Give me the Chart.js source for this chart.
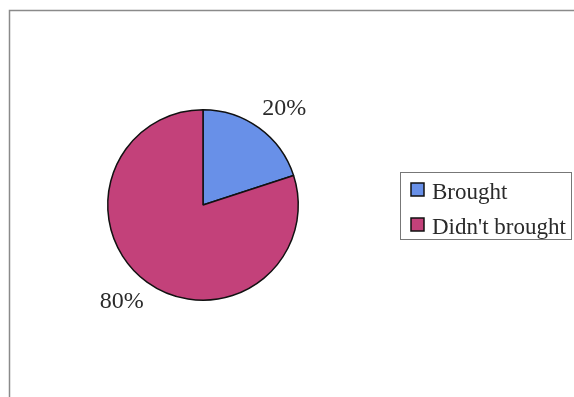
<!DOCTYPE html>
<html lang="en">
  <head>
    <meta charset="utf-8" />
    <title>Brought pie</title>
    <style>
      * {
        margin: 0;
        padding: 0;
      }
      body {
        background: #fff;
      }
      .chartBox {
        width: 574px;
        height: 397px;
      }
    </style>
  </head>
  <body>
    <div class="chartBox">
      <canvas id="myChart" width="574" height="397"></canvas>
    </div>

    <script src="https://cdn.jsdelivr.net/npm/chart.js@4.1.1/dist/chart.umd.min.js"></script>

    <script>
      const labels = ["Brought", "Didn't brought"];
      const values = [20, 80];
      const colors = ["#6890e8", "#c3417a"];

      const PCT_FONT = "24px 'Liberation Serif', 'Times New Roman', serif";
      const LEG_FONT = "23px 'Liberation Serif', 'Times New Roman', serif";

      // frame lines, percent labels and the boxed legend
      const extras = {
        id: "extras",
        beforeDraw(chart) {
          const { ctx } = chart;
          ctx.save();
          ctx.strokeStyle = "#8a8a8a";
          ctx.lineWidth = 1.5;
          ctx.beginPath();
          ctx.moveTo(9.5, 397);
          ctx.lineTo(9.5, 10.5);
          ctx.lineTo(574, 10.5);
          ctx.stroke();
          ctx.restore();
        },
        afterDraw(chart) {
          const { ctx } = chart;
          const meta = chart.getDatasetMeta(0);
          const total = values.reduce((a, b) => a + b, 0);
          ctx.save();
          ctx.font = PCT_FONT;
          ctx.fillStyle = "#2a2a2a";
          ctx.textAlign = "center";
          ctx.textBaseline = "middle";
          meta.data.forEach((arc, i) => {
            const { x, y, startAngle, endAngle, outerRadius } = arc.getProps(
              ["x", "y", "startAngle", "endAngle", "outerRadius"],
              true
            );
            const mid = (startAngle + endAngle) / 2 + 0.07;
            const r = outerRadius + 31;
            const pct = Math.round((values[i] / total) * 100) + "%";
            ctx.fillText(pct, x + Math.cos(mid) * r, y + Math.sin(mid) * r);
          });

          // legend box
          ctx.font = LEG_FONT;
          ctx.strokeStyle = "#777";
          ctx.lineWidth = 1;
          ctx.strokeRect(400.5, 172.5, 171, 67);
          ctx.textAlign = "left";
          ctx.textBaseline = "alphabetic";
          labels.forEach((lab, i) => {
            const yTop = 183 + i * 35;
            ctx.fillStyle = colors[i];
            ctx.fillRect(411, yTop, 13, 13);
            ctx.strokeStyle = "#111";
            ctx.lineWidth = 1.5;
            ctx.strokeRect(411, yTop, 13, 13);
            ctx.fillStyle = "#2a2a2a";
            ctx.fillText(lab, 432, yTop + 16);
          });
          ctx.restore();
        },
      };

      const config = {
        type: "pie",
        data: {
          labels: labels,
          datasets: [
            {
              data: values,
              backgroundColor: colors,
              borderColor: "#111",
              borderWidth: 1.5,
            },
          ],
        },
        options: {
          responsive: false,
          animation: false,
          layout: {
            padding: { left: 107, right: 275, top: 109, bottom: 96 },
          },
          plugins: {
            legend: { display: false },
            tooltip: { enabled: false },
          },
        },
        plugins: [extras],
      };

      const myChart = new Chart(document.getElementById("myChart"), config);
    </script>
  </body>
</html>
